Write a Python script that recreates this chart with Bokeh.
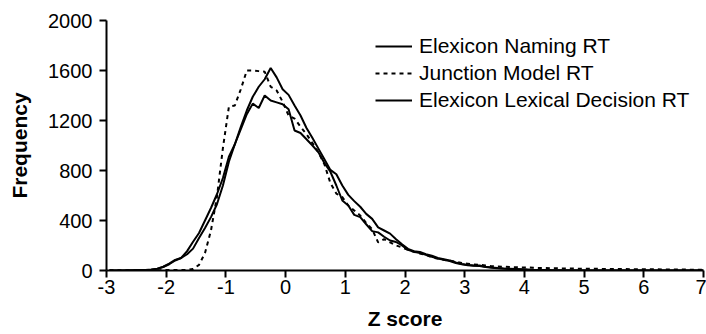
from bokeh.plotting import figure
from bokeh.models import Range1d, FixedTicker, Legend, LegendItem
from bokeh.embed import file_html
from bokeh.resources import INLINE

# ---- data ----
z_score = [-2.95, -2.85, -2.75, -2.65, -2.55, -2.45, -2.35, -2.25, -2.15, -2.05,
           -1.95, -1.85, -1.75, -1.65, -1.55, -1.45, -1.35, -1.25, -1.15, -1.05,
           -0.95, -0.85, -0.75, -0.65, -0.55, -0.45, -0.35, -0.25, -0.15, -0.05,
           0.05, 0.15, 0.25, 0.35, 0.45, 0.55, 0.65, 0.75, 0.85, 0.95,
           1.05, 1.15, 1.25, 1.35, 1.45, 1.55, 1.65, 1.75, 1.85, 1.95,
           2.05, 2.15, 2.25, 2.35, 2.45, 2.55, 2.65, 2.75, 2.85, 2.95,
           3.05, 3.15, 3.25, 3.35, 3.45, 3.55, 3.65, 3.75, 3.85, 3.95,
           4.05, 4.15, 4.25, 4.35, 4.45,
           4.7, 5.0, 5.5, 6.0, 6.5, 7.0]

naming_rt = [0, 0, 0, 1, 2, 3, 4, 6, 13, 28,
             50, 80, 100, 130, 175, 260, 340, 427, 530, 680,
             870, 1010, 1150, 1280, 1390, 1470, 1530, 1620, 1545, 1450,
             1405, 1320, 1240, 1140, 1060, 975, 890, 805, 770, 680,
             605, 555, 510, 453, 413, 345, 320, 295, 250, 210,
             173, 155, 148, 130, 118, 100, 90, 80, 65, 52,
             45, 40, 40, 30, 25, 20, 16, 14, 12, 10,
             8, 6, 5, 4, 3,
             2, 1, 0, 0, 0, 0]

junction_rt = [3, 3, 3, 3, 3, 3, 3, 3, 3, 3,
               4, 4, 4, 5, 12, 45, 140, 320, 590, 980,
               1310, 1320, 1450, 1600, 1600, 1595, 1590, 1470, 1440, 1350,
               1240, 1215, 1150, 1090, 1020, 945, 850, 700, 615, 587,
               520, 480, 440, 380, 330, 225, 250, 225, 200, 185,
               165, 150, 135, 125, 105, 95, 85, 80, 70, 60,
               55, 48, 45, 40, 35, 32, 30, 28, 26, 25,
               24, 22, 20, 20, 18,
               16, 14, 12, 10, 8, 6]

lexical_rt = [0, 0, 1, 2, 3, 4, 5, 8, 15, 30,
              55, 85, 100, 155, 230, 300, 400, 500, 610, 740,
              910, 1010, 1130, 1250, 1335, 1300, 1400, 1360, 1345, 1330,
              1290, 1120, 1100, 1050, 1000, 945, 860, 790, 680, 560,
              520, 445, 427, 370, 315, 305, 270, 240, 228, 200,
              165, 150, 140, 125, 110, 95, 85, 75, 60, 50,
              42, 38, 35, 28, 22, 18, 15, 12, 10, 8,
              6, 5, 4, 3, 2,
              1, 0, 0, 0, 0, 0]

x_ticks = [-3, -2, -1, 0, 1, 2, 3, 4, 5, 6, 7]
x_tick_labels = ["-3", "-2", "-1", "0", "1", "2", "3", "4", "5", "6", "7"]
y_ticks = [0, 400, 800, 1200, 1600, 2000]
y_tick_labels = ["0", "400", "800", "1200", "1600", "2000"]

series_names = ["Elexicon Naming RT", "Junction Model RT", "Elexicon Lexical Decision RT"]

FONT = "Liberation Sans"

p = figure(width=706, height=334, output_backend="svg", toolbar_location=None,
           x_range=Range1d(-3, 7), y_range=Range1d(0, 2000))
p.min_border_left = 106
p.min_border_right = 3
p.min_border_top = 20
p.min_border_bottom = 64
p.outline_line_color = None
p.xgrid.visible = False
p.ygrid.visible = False
p.background_fill_color = "white"
p.border_fill_color = "white"

r1 = p.line(z_score, naming_rt, line_color="black", line_width=2)
r2 = p.line(z_score, junction_rt, line_color="black", line_width=2, line_dash="4 4")
r3 = p.line(z_score, lexical_rt, line_color="black", line_width=2)

for ax in (p.xaxis[0], p.yaxis[0]):
    ax.axis_line_color = "black"
    ax.axis_line_width = 2
    ax.major_tick_line_color = "black"
    ax.major_tick_line_width = 2
    ax.major_tick_in = 0
    ax.major_tick_out = 7
    ax.minor_tick_line_color = None
    ax.major_label_text_font = FONT
    ax.major_label_text_font_size = "20px"
    ax.major_label_text_color = "black"
    ax.axis_label_text_font = FONT
    ax.axis_label_text_font_size = "21px"
    ax.axis_label_text_font_style = "bold"
    ax.axis_label_text_color = "black"

p.xaxis[0].ticker = FixedTicker(ticks=x_ticks)
p.xaxis[0].major_label_overrides = {t: l for t, l in zip(x_ticks, x_tick_labels)}
p.xaxis[0].axis_label = "Z score"
p.xaxis[0].major_label_standoff = 2
p.xaxis[0].axis_label_standoff = 10

p.yaxis[0].ticker = FixedTicker(ticks=y_ticks)
p.yaxis[0].major_label_overrides = {t: l for t, l in zip(y_ticks, y_tick_labels)}
p.yaxis[0].axis_label = "Frequency"
p.yaxis[0].major_label_standoff = 7
p.yaxis[0].axis_label_standoff = 14

legend = Legend(items=[LegendItem(label=series_names[0], renderers=[r1]),
                       LegendItem(label=series_names[1], renderers=[r2]),
                       LegendItem(label=series_names[2], renderers=[r3])],
                location=(269, 157))
legend.border_line_color = None
legend.background_fill_alpha = 0
legend.padding = 0
legend.margin = 0
legend.spacing = 1
legend.glyph_width = 37
legend.glyph_height = 26
legend.label_height = 26
legend.label_standoff = 7
legend.label_text_font = FONT
legend.label_text_font_size = "21px"
legend.label_text_color = "black"
p.add_layout(legend, "center")

open("out.html", "w").write(file_html(p, INLINE))
